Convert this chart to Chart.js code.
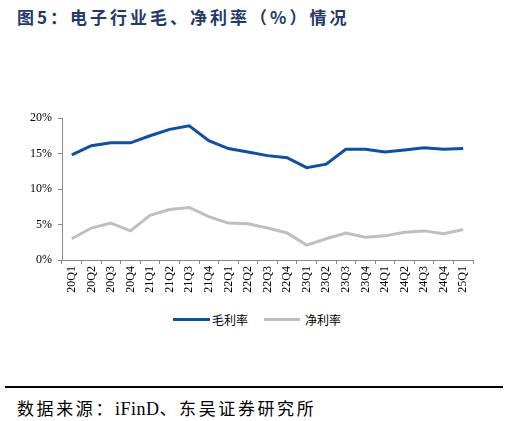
<!DOCTYPE html>
<html>
<head>
<meta charset="utf-8">
<script src="https://cdn.jsdelivr.net/npm/chart.js@4/dist/chart.umd.min.js"></script>
<style>
  html, body { margin: 0; padding: 0; background: #fff; }
  #wrap { position: relative; width: 510px; height: 421px; overflow: hidden; }
  #title { position: absolute; left: 17px; top: 4px; font-family: "Noto Sans CJK SC", sans-serif; font-weight: bold; font-size: 17px; color: #1f3a6b; white-space: nowrap; letter-spacing: 3px; }
  #cv { position: absolute; left: 0; top: 0; }
  #legend { position: absolute; top: 310px; left: 0; width: 510px; height: 20px; font-family: "Noto Sans CJK SC", sans-serif; font-size: 12px; color: #000; }
  .lg { position: absolute; top: 0; height: 20px; line-height: 20px; }
  .sw { position: absolute; top: 8px; height: 3px; }
  #rule { position: absolute; left: 5px; width: 498px; top: 386px; height: 2px; background: #000; }
  #src { position: absolute; left: 17px; top: 395px; font-family: "Noto Sans CJK SC", serif; font-size: 17px; color: #000; white-space: nowrap; letter-spacing: 2.6px; }
  #src .lat { font-family: "Liberation Serif", serif; font-size: 18px; letter-spacing: 0.5px; }
</style>
</head>
<body>
<div id="wrap">
  <div id="title">图5：电子行业毛、净利率（%）情况</div>
  <canvas id="cv" width="510" height="310"></canvas>
  <div id="legend">
    <div class="sw" style="left:173px;width:37px;background:#0d4ea6;"></div>
    <div class="lg" style="left:212px;">毛利率</div>
    <div class="sw" style="left:264px;width:36px;background:#bfbfbf;"></div>
    <div class="lg" style="left:305px;">净利率</div>
  </div>
  <div id="rule"></div>
  <div id="src">数据来源：<span class="lat">iFinD</span>、东吴证券研究所</div>
</div>
<script>
const categories = ["20Q1","20Q2","20Q3","20Q4","21Q1","21Q2","21Q3","21Q4","22Q1","22Q2","22Q3","22Q4","23Q1","23Q2","23Q3","23Q4","24Q1","24Q2","24Q3","24Q4","25Q1"];
const grossMargin = [14.8,16.1,16.5,16.5,17.5,18.4,18.9,16.8,15.7,15.2,14.7,14.4,13.0,13.5,15.6,15.6,15.2,15.5,15.8,15.6,15.7];
const netMargin = [3.0,4.5,5.2,4.1,6.3,7.1,7.4,6.1,5.2,5.1,4.5,3.8,2.1,3.0,3.8,3.2,3.4,3.9,4.1,3.7,4.3];
const yTicks = [0,5,10,15,20];
const seriesNames = ["毛利率","净利率"];

const axisColor = "#898989";
new Chart(document.getElementById("cv"), {
  type: "line",
  data: {
    labels: categories,
    datasets: [
      { label: seriesNames[0], data: grossMargin, borderColor: "#0d4ea6", borderWidth: 3, pointRadius: 0, tension: 0, fill: false },
      { label: seriesNames[1], data: netMargin, borderColor: "#bfbfbf", borderWidth: 3, pointRadius: 0, tension: 0, fill: false }
    ]
  },
  options: {
    responsive: false,
    animation: false,
    layout: { padding: { left: 10, right: 37, top: 118, bottom: 0 } },
    plugins: { legend: { display: false }, tooltip: { enabled: false } },
    scales: {
      x: {
        offset: true,
        grid: { display: true, offset: true, drawOnChartArea: false, tickLength: 4, color: axisColor },
        border: { display: true, color: axisColor, width: 1 },
        ticks: { autoSkip: false, maxRotation: 90, minRotation: 90, color: "#000", padding: 2, font: { family: "Liberation Serif", size: 12 } },
        afterFit: s => { s.height = 50; }
      },
      y: {
        min: 0, max: 20,
        afterBuildTicks: s => { s.ticks = yTicks.map(v => ({ value: v })); },
        grid: { display: true, drawOnChartArea: false, tickLength: 4, color: axisColor },
        border: { display: true, color: axisColor, width: 1 },
        ticks: { color: "#000", padding: 6, font: { family: "Liberation Serif", size: 12 }, callback: v => v + "%" },
        afterFit: s => { s.width = 52; }
      }
    }
  }
});
</script>
</body>
</html>
